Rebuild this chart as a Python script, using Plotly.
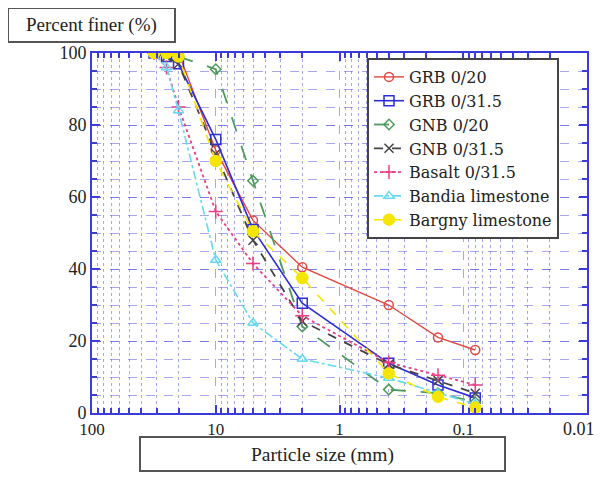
import plotly.graph_objects as go

# sieve sizes (mm)
sizes = [31.5, 25, 20, 10, 5, 2, 0.4, 0.16, 0.08]

grb_020 = [None, None, 100, 73, 53.5, 40.5, 30, 21, 17.5]
grb_0315 = [100, 99, 97, 76, 51, 30.5, 13.8, 7.8, 4.2]
gnb_020 = [None, None, 99, 95.5, 64.5, 24, 6.5, 5.5, 3]
gnb_0315 = [100, 99, 97, 72, 48, 25.5, 13.5, 9, 5.5]
basalt_0315 = [100, 96, 85, 56, 41.5, 27, 14, 10.5, 7.8]
bandia = [100, 96, 84, 42.5, 25, 15, 9.7, 5.5, 2.5]
bargny = [100, 100, 99, 70, 50.5, 37.5, 11, 4.5, 1.5]

xticks = [100, 10, 1, 0.1, 0.01]
xticktext = ['100', '10', '1', '0.1', '']  # 0.01 is written as an annotation so it is not cut at the edge
yticks = [0, 20, 40, 60, 80, 100]

minor_x = [m * 10 ** e for e in (-2, -1, 0, 1) for m in range(2, 10)]

series = [
    ('GRB 0/20', grb_020, '#e2473f', 'solid', 'circle-open', 9, 1.4),
    ('GRB 0/31.5', grb_0315, '#2e2ed6', 'solid', 'square-open', 10, 1.6),
    ('GNB 0/20', gnb_020, '#4e9a5c', 'longdash', 'diamond-open', 8, 1.8),
    ('GNB 0/31.5', gnb_0315, '#444444', 'dash', 'x-thin-open', 9, 1.8),
    ('Basalt 0/31.5', basalt_0315, '#ec3c84', 'dot', 'cross-thin-open', 10, 1.8),
    ('Bandia limestone', bandia, '#66d9f2', 'dashdot', 'triangle-up-open', 9, 1.6),
    ('Bargny limestone', bargny, '#f4e600', 'dash', 'circle', 11, 1.6),
]

fig = go.Figure()
for name, vals, col, dash, sym, ms, lw in series:
    fig.add_trace(go.Scatter(
        x=sizes, y=vals, name=name, mode='lines+markers', connectgaps=False,
        line=dict(color=col, width=lw, dash=dash),
        marker=dict(symbol=sym, size=ms, color=col, line=dict(color=col, width=1.5))))

gridc = 'rgba(80,80,225,0.5)'
axc = '#3b3bdc'
font_f = 'Liberation Serif'

fig.update_xaxes(
    type='log', range=[2, -2], tickvals=xticks, ticktext=xticktext, automargin=False,
    ticks='inside', ticklen=8, tickcolor=axc, tickwidth=1.5,
    showline=True, linecolor=axc, linewidth=2, mirror='ticks',
    showgrid=True, gridcolor=gridc, griddash='dash', gridwidth=1,
    minor=dict(tickvals=minor_x, ticks='inside', ticklen=5, tickcolor=axc,
               showgrid=True, gridcolor=gridc, griddash='dot', gridwidth=1),
    tickfont=dict(family=font_f, size=17, color='#222'), zeroline=False)

fig.update_yaxes(
    range=[0, 100], tickvals=yticks, automargin=False,
    ticks='inside', ticklen=8, tickcolor=axc, tickwidth=1.5,
    showline=True, linecolor=axc, linewidth=2, mirror='ticks',
    showgrid=True, gridcolor=gridc, griddash='dash', gridwidth=1,
    minor=dict(dtick=5, ticks='inside', ticklen=5, tickcolor=axc,
               showgrid=True, gridcolor=gridc, griddash='dash', gridwidth=1),
    tickfont=dict(family=font_f, size=18, color='#222'), zeroline=False)

# page has an 8px body margin, so the figure is shifted by 8px; positions below are page pixels
def px(v):
    return (v - 92) / 495

def py(v):
    return (413 - v) / 360

fig.add_annotation(xref='paper', yref='paper', x=px(597), y=py(429),
                   xanchor='right', yanchor='middle', text='0.01', showarrow=False,
                   font=dict(family=font_f, size=18, color='#222'))

# boxed axis titles
fig.add_shape(type='rect', xref='paper', yref='paper', layer='below',
              x0=px(8), x1=px(175), y0=py(42), y1=py(8),
              line=dict(color='#555', width=2), fillcolor='white')
fig.add_annotation(xref='paper', yref='paper', x=px(91), y=py(25),
                   xanchor='center', yanchor='middle',
                   text='Percent finer (%)', showarrow=False,
                   font=dict(family=font_f, size=19, color='#222'))
fig.add_shape(type='rect', xref='paper', yref='paper', layer='below',
              x0=px(140), x1=px(505), y0=py(471), y1=py(437),
              line=dict(color='#555', width=2), fillcolor='white')
fig.add_annotation(xref='paper', yref='paper', x=px(322), y=py(455),
                   xanchor='center', yanchor='middle',
                   text='Particle size (mm)', showarrow=False,
                   font=dict(family=font_f, size=19.5, color='#222'))

fig.update_layout(
    width=595, height=464,
    margin=dict(l=84, r=16, t=45, b=59, autoexpand=False),
    plot_bgcolor='white', paper_bgcolor='white',
    legend=dict(x=px(367), y=py(58), xanchor='left', yanchor='top',
                bordercolor='#444', borderwidth=2, bgcolor='white',
                font=dict(family='DejaVu Serif', size=16, color='#222'),
                tracegroupgap=0, itemwidth=30),
    showlegend=True)

fig.write_html('out.html')
